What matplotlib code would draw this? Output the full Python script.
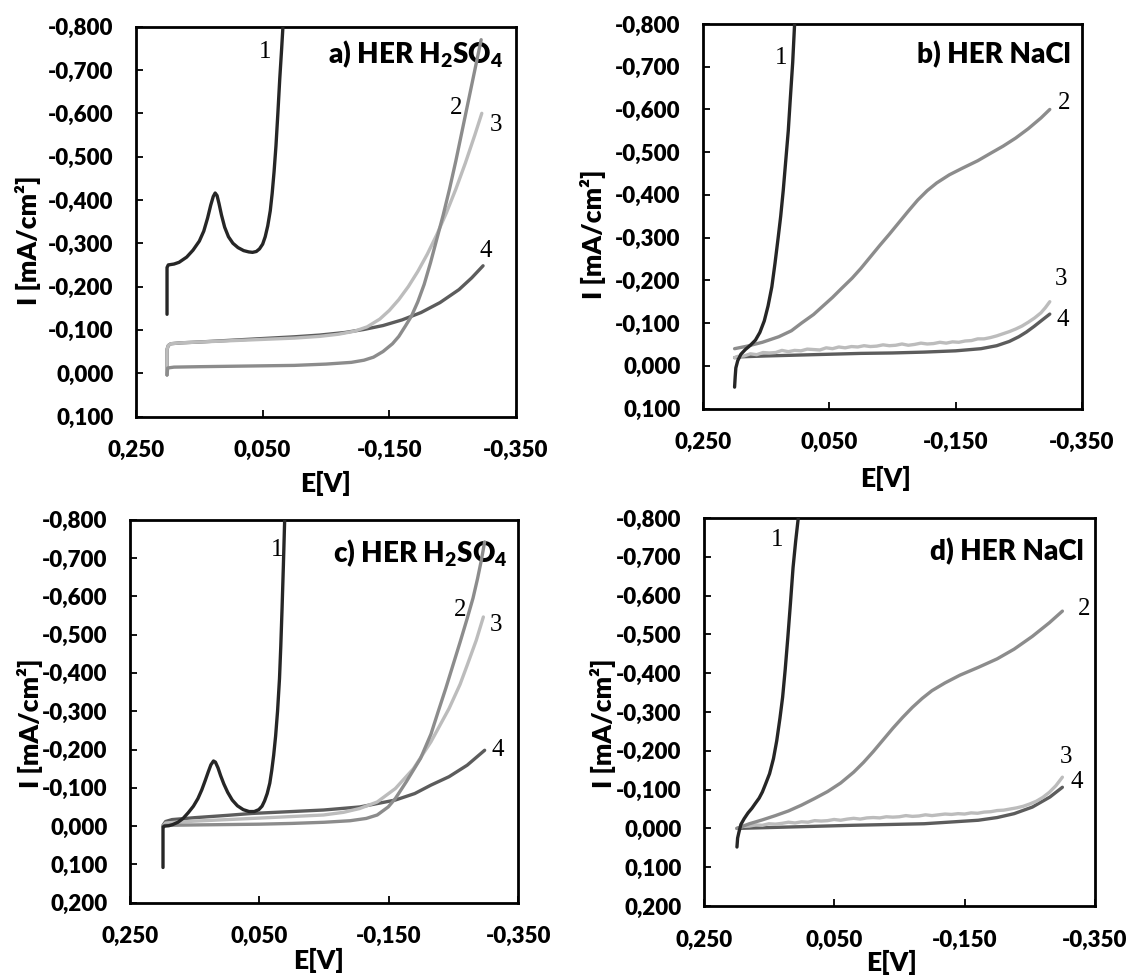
import matplotlib
matplotlib.use("Agg")
import matplotlib.pyplot as plt
from matplotlib.ticker import FuncFormatter

plt.rcParams["font.family"] = ["Lato", "DejaVu Sans"]
plt.rcParams["font.weight"] = "heavy"
plt.rcParams["mathtext.fontset"] = "custom"
plt.rcParams["mathtext.rm"] = "Lato:heavy"
plt.rcParams["mathtext.bf"] = "Lato:heavy"
plt.rcParams["mathtext.default"] = "rm"

# ---- a) HER H2SO4 ----
a_e1 = [0.201, 0.201, 0.199, 0.190, 0.182, 0.170, 0.160, 0.150, 0.143, 0.137, 0.132, 0.128, 0.125, 0.122,
        0.119, 0.115, 0.110, 0.104, 0.097, 0.089, 0.080, 0.072, 0.066, 0.060, 0.055, 0.050, 0.046, 0.042,
        0.038, 0.035, 0.032, 0.029, 0.026, 0.023, 0.020, 0.018]
a_i1 = [-0.136, -0.244, -0.250, -0.252, -0.256, -0.268, -0.284, -0.305, -0.328, -0.358, -0.388, -0.408, -0.416, -0.410,
        -0.392, -0.365, -0.337, -0.315, -0.300, -0.290, -0.283, -0.280, -0.279, -0.281, -0.287, -0.298, -0.315, -0.340,
        -0.375, -0.415, -0.465, -0.525, -0.600, -0.680, -0.750, -0.800]
a_e2 = [0.201, 0.200, 0.190, 0.150, 0.100, 0.050, 0.000, -0.050, -0.090, -0.110, -0.125, -0.140, -0.155, -0.165,
        -0.175, -0.185, -0.195, -0.205, -0.215, -0.225, -0.235, -0.245, -0.255, -0.265, -0.275, -0.285, -0.295]
a_i2 = [0.004, -0.012, -0.014, -0.015, -0.016, -0.017, -0.018, -0.021, -0.025, -0.030, -0.037, -0.050, -0.068, -0.085,
        -0.108, -0.132, -0.165, -0.205, -0.255, -0.310, -0.365, -0.425, -0.490, -0.560, -0.630, -0.700, -0.770]
a_e3 = [0.201, 0.201, 0.199, 0.195, 0.180, 0.150, 0.100, 0.050, 0.000, -0.040, -0.070, -0.095, -0.115, -0.135,
        -0.150, -0.165, -0.180, -0.195, -0.210, -0.225, -0.240, -0.255, -0.270, -0.285, -0.296]
a_i3 = [0.004, -0.055, -0.064, -0.068, -0.070, -0.072, -0.075, -0.078, -0.081, -0.085, -0.090, -0.097, -0.107, -0.125,
        -0.145, -0.170, -0.200, -0.235, -0.275, -0.320, -0.370, -0.425, -0.485, -0.550, -0.600]
a_e4 = [0.201, 0.201, 0.199, 0.195, 0.180, 0.150, 0.100, 0.050, 0.000, -0.040, -0.080, -0.110, -0.140, -0.170,
        -0.200, -0.230, -0.260, -0.280, -0.298]
a_i4 = [0.004, -0.055, -0.064, -0.068, -0.070, -0.072, -0.076, -0.080, -0.084, -0.088, -0.094, -0.101, -0.110, -0.123,
        -0.140, -0.163, -0.193, -0.220, -0.248]

# ---- b) HER NaCl ----
b_e1 = [0.200, 0.199, 0.198, 0.195, 0.190, 0.183, 0.175, 0.167, 0.160, 0.153, 0.147, 0.141, 0.136, 0.131,
        0.127, 0.123, 0.119, 0.115, 0.112, 0.108, 0.105]
b_i1 = [0.050, 0.025, 0.005, -0.012, -0.027, -0.038, -0.048, -0.060, -0.078, -0.105, -0.140, -0.185, -0.240, -0.300,
        -0.350, -0.410, -0.480, -0.550, -0.620, -0.710, -0.800]
b_e2 = [0.200, 0.180, 0.156, 0.130, 0.110, 0.094, 0.075, 0.060, 0.045, 0.030, 0.014, 0.000, -0.015, -0.030,
        -0.045, -0.060, -0.075, -0.090, -0.105, -0.120, -0.140, -0.160, -0.185, -0.206, -0.225, -0.245, -0.265,
        -0.285, -0.299]
b_i2 = [-0.040, -0.046, -0.055, -0.068, -0.082, -0.100, -0.120, -0.140, -0.160, -0.182, -0.205, -0.228, -0.255, -0.282,
        -0.308, -0.335, -0.362, -0.388, -0.410, -0.428, -0.447, -0.462, -0.480, -0.498, -0.514, -0.533, -0.555,
        -0.580, -0.600]
b_e3 = [0.200, 0.195, 0.185, 0.175, 0.165, 0.155, 0.145, 0.135, 0.125, 0.115, 0.105, 0.095, 0.085, 0.075, 0.065,
        0.055, 0.045, 0.035, 0.025, 0.015, 0.005, -0.005, -0.015, -0.025, -0.035, -0.045, -0.055, -0.065, -0.075,
        -0.085, -0.095, -0.105, -0.115, -0.125, -0.135, -0.145, -0.155, -0.165, -0.175, -0.185, -0.195, -0.205,
        -0.215, -0.225, -0.235, -0.245, -0.255, -0.265, -0.275, -0.285, -0.292, -0.299]
b_i3 = [-0.019, -0.022, -0.023, -0.028, -0.026, -0.031, -0.030, -0.031, -0.036, -0.033, -0.036, -0.035, -0.039, -0.038,
        -0.037, -0.042, -0.040, -0.044, -0.042, -0.045, -0.044, -0.047, -0.045, -0.046, -0.049, -0.047, -0.048, -0.051,
        -0.048, -0.050, -0.053, -0.051, -0.052, -0.055, -0.053, -0.056, -0.055, -0.058, -0.059, -0.063, -0.063, -0.066,
        -0.070, -0.075, -0.080, -0.086, -0.093, -0.102, -0.112, -0.124, -0.136, -0.150]
b_e4 = [0.200, 0.190, 0.150, 0.100, 0.050, 0.000, -0.050, -0.100, -0.150, -0.190, -0.215, -0.235, -0.250, -0.262,
        -0.274, -0.286, -0.299]
b_i4 = [-0.019, -0.021, -0.023, -0.025, -0.027, -0.029, -0.030, -0.032, -0.035, -0.040, -0.047, -0.057, -0.068, -0.079,
        -0.092, -0.106, -0.121]

# ---- c) HER H2SO4 ----
c_e1 = [0.199, 0.199, 0.197, 0.190, 0.184, 0.176, 0.168, 0.160, 0.152, 0.145, 0.139, 0.134, 0.129, 0.125, 0.121,
        0.118, 0.114, 0.110, 0.105, 0.099, 0.092, 0.084, 0.075, 0.066, 0.058, 0.051, 0.046, 0.042, 0.038, 0.034,
        0.031, 0.028, 0.025, 0.022, 0.019, 0.017, 0.015, 0.013, 0.011]
c_i1 = [0.108, 0.003, 0.000, -0.001, -0.004, -0.010, -0.020, -0.035, -0.052, -0.072, -0.095, -0.118, -0.142, -0.160,
        -0.170, -0.167, -0.152, -0.132, -0.110, -0.088, -0.068, -0.053, -0.043, -0.038, -0.038, -0.043, -0.052, -0.066,
        -0.085, -0.112, -0.145, -0.185, -0.235, -0.300, -0.385, -0.470, -0.570, -0.680, -0.800]
c_e2 = [0.199, 0.195, 0.150, 0.100, 0.050, 0.000, -0.050, -0.090, -0.115, -0.132, -0.149, -0.160, -0.177, -0.199,
        -0.215, -0.226, -0.238, -0.249, -0.260, -0.271, -0.280, -0.287, -0.293, -0.298]
c_i2 = [0.000, -0.002, -0.003, -0.004, -0.005, -0.007, -0.010, -0.014, -0.020, -0.029, -0.050, -0.072, -0.116, -0.177,
        -0.240, -0.298, -0.360, -0.420, -0.480, -0.542, -0.595, -0.646, -0.695, -0.742]
c_e3 = [0.199, 0.195, 0.180, 0.150, 0.100, 0.062, 0.000, -0.049, -0.080, -0.105, -0.132, -0.160, -0.188, -0.215,
        -0.243, -0.260, -0.271, -0.285, -0.296]
c_i3 = [0.000, -0.008, -0.010, -0.013, -0.017, -0.020, -0.025, -0.029, -0.036, -0.046, -0.063, -0.098, -0.150, -0.220,
        -0.307, -0.370, -0.420, -0.485, -0.546]
c_e4 = [0.199, 0.195, 0.185, 0.150, 0.100, 0.062, 0.000, -0.049, -0.105, -0.160, -0.190, -0.215, -0.243, -0.271, -0.298]
c_i4 = [-0.002, -0.012, -0.017, -0.022, -0.028, -0.033, -0.038, -0.042, -0.050, -0.068, -0.085, -0.107, -0.129,
        -0.159, -0.198]

# ---- d) HER NaCl ----
d_e1 = [0.199, 0.198, 0.196, 0.193, 0.188, 0.182, 0.176, 0.171, 0.165, 0.160, 0.155, 0.149, 0.143, 0.138, 0.133,
        0.129, 0.125, 0.121, 0.117, 0.113, 0.109, 0.105]
d_i1 = [0.048, 0.025, 0.010, -0.010, -0.025, -0.040, -0.052, -0.064, -0.078, -0.094, -0.115, -0.141, -0.180, -0.226,
        -0.285, -0.338, -0.410, -0.492, -0.580, -0.672, -0.740, -0.800]
d_e2 = [0.199, 0.180, 0.160, 0.140, 0.120, 0.100, 0.080, 0.060, 0.040, 0.020, 0.005, -0.010, -0.025, -0.040,
        -0.055, -0.070, -0.085, -0.100, -0.120, -0.143, -0.171, -0.200, -0.226, -0.254, -0.280, -0.300]
d_i2 = [0.000, -0.012, -0.022, -0.033, -0.045, -0.060, -0.077, -0.095, -0.117, -0.145, -0.170, -0.198, -0.228, -0.258,
        -0.286, -0.312, -0.335, -0.355, -0.375, -0.395, -0.415, -0.437, -0.462, -0.495, -0.530, -0.560]
d_e3 = [0.199, 0.190, 0.180, 0.170, 0.160, 0.150, 0.140, 0.130, 0.120, 0.110, 0.100, 0.090, 0.080, 0.070, 0.060,
        0.050, 0.040, 0.030, 0.020, 0.010, 0.000, -0.010, -0.020, -0.030, -0.040, -0.050, -0.060, -0.070, -0.080,
        -0.090, -0.100, -0.110, -0.120, -0.130, -0.140, -0.150, -0.160, -0.170, -0.180, -0.190, -0.200, -0.210,
        -0.220, -0.230, -0.240, -0.250, -0.260, -0.270, -0.280, -0.290, -0.300]
d_i3 = [0.000, -0.005, -0.006, -0.009, -0.008, -0.012, -0.011, -0.013, -0.016, -0.014, -0.017, -0.016, -0.020, -0.019,
        -0.020, -0.023, -0.021, -0.024, -0.026, -0.024, -0.027, -0.028, -0.027, -0.030, -0.029, -0.030, -0.033, -0.031,
        -0.032, -0.035, -0.033, -0.035, -0.037, -0.036, -0.038, -0.037, -0.040, -0.039, -0.042, -0.043, -0.046, -0.047,
        -0.050, -0.053, -0.057, -0.063, -0.070, -0.080, -0.093, -0.110, -0.132]
d_e4 = [0.199, 0.132, 0.022, -0.088, -0.171, -0.200, -0.226, -0.254, -0.281, -0.300]
d_i4 = [0.000, -0.003, -0.008, -0.012, -0.021, -0.028, -0.038, -0.055, -0.081, -0.106]

curve_labels = ["1", "2", "3", "4"]
curve_colors = ["#262626", "#8c8c8c", "#bcbcbc", "#5c5c5c"]

panels = [
    dict(title=r"a) HER H$_2$SO$_4$", ymin=0.1, pos=[136, 26.7, 516, 416.5],
         curves=[(a_e1, a_i1), (a_e2, a_i2), (a_e3, a_i3), (a_e4, a_i4)],
         label_xy=[(0.046, -0.742), (-0.255, -0.612), (-0.318, -0.574), (-0.303, -0.282)],
         title_xy=(0.966, 0.907), ylab_xy=(-0.285, 0.453), xlab_xy=(0.5, -0.172)),
    dict(title="b) HER NaCl", ymin=0.1, pos=[703, 24, 1082, 408.5],
         curves=[(b_e1, b_i1), (b_e2, b_i2), (b_e3, b_i3), (b_e4, b_i4)],
         label_xy=[(0.127, -0.720), (-0.322, -0.616), (-0.316, -0.204), (-0.319, -0.106)],
         title_xy=(0.971, 0.898), ylab_xy=(-0.290, 0.454), xlab_xy=(0.483, -0.182)),
    dict(title=r"c) HER H$_2$SO$_4$", ymin=0.2, pos=[130, 519.7, 518.3, 902.7],
         curves=[(c_e1, c_i1), (c_e2, c_i2), (c_e3, c_i3), (c_e4, c_i4)],
         label_xy=[(0.023, -0.720), (-0.260, -0.563), (-0.315, -0.524), (-0.318, -0.198)],
         title_xy=(0.974, 0.890), ylab_xy=(-0.258, 0.469), xlab_xy=(0.485, -0.152)),
    dict(title="d) HER NaCl", ymin=0.2, pos=[703.7, 518, 1095, 906],
         curves=[(d_e1, d_i1), (d_e2, d_i2), (d_e3, d_i3), (d_e4, d_i4)],
         label_xy=[(0.137, -0.744), (-0.333, -0.565), (-0.306, -0.184), (-0.322, -0.119)],
         title_xy=(0.972, 0.892), ylab_xy=(-0.258, 0.472), xlab_xy=(0.480, -0.145)),
]

W, H = 1128, 977
x_ticks = [0.25, 0.05, -0.15, -0.35]


def comma_fmt(v, _pos):
    v = round(v, 3)
    if v == 0:
        v = 0.0
    return f"{v:.3f}".replace(".", ",")


fig = plt.figure(figsize=(W / 100, H / 100), dpi=100)

for p in panels:
    x0, y0, x1, y1 = p["pos"]
    ax = fig.add_axes([x0 / W, 1 - y1 / H, (x1 - x0) / W, (y1 - y0) / H])

    # draw 4 first so that curve 1 ends up on top
    for k in [3, 2, 1, 0]:
        e, i = p["curves"][k]
        ax.plot(e, i, color=curve_colors[k], lw=2.4, solid_capstyle="round",
                solid_joinstyle="round", zorder=3 + (3 - k))

    for k, (lx, ly) in enumerate(p["label_xy"]):
        ax.text(lx, ly, curve_labels[k], family="Liberation Serif", fontweight="normal",
                fontsize=18, ha="center", va="center", color="black")

    ax.text(p["title_xy"][0], p["title_xy"][1], p["title"], transform=ax.transAxes,
            ha="right", va="baseline", fontsize=20, fontweight="heavy")

    ax.set_xlim(0.25, -0.35)
    ax.set_ylim(p["ymin"], -0.8)
    ax.set_xticks(x_ticks)
    n = int(round((p["ymin"] + 0.8) / 0.1))
    ax.set_yticks([round(-0.8 + 0.1 * j, 1) for j in range(n + 1)])
    ax.xaxis.set_major_formatter(FuncFormatter(comma_fmt))
    ax.yaxis.set_major_formatter(FuncFormatter(comma_fmt))
    ax.tick_params(axis="both", direction="in", length=5, width=1.3, labelsize=16)
    ax.tick_params(axis="y", pad=16)
    ax.tick_params(axis="x", pad=17)
    for lab in ax.get_xticklabels() + ax.get_yticklabels():
        lab.set_fontweight("heavy")
    for s in ax.spines.values():
        s.set_linewidth(2.0)

    ax.set_ylabel("I [mA/cm²]", fontsize=19, fontweight="heavy", va="center")
    ax.yaxis.set_label_coords(*p["ylab_xy"])
    ax.set_xlabel("E[V]", fontsize=19, fontweight="heavy", va="center")
    ax.xaxis.set_label_coords(*p["xlab_xy"])

fig.savefig("out.png", dpi=100)
